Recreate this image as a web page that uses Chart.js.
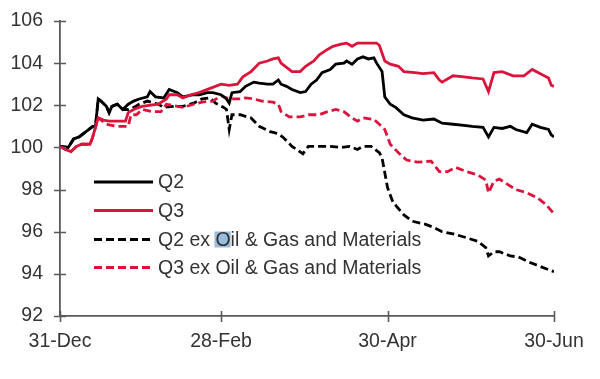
<!DOCTYPE html>
<html>
<head>
<meta charset="utf-8">
<script src="https://cdn.jsdelivr.net/npm/chart.js@4"></script>
<style>
html,body{margin:0;padding:0;background:#fff;}
#wrap{width:600px;height:379px;position:relative;}
</style>
</head>
<body>
<div id="wrap"><canvas id="c" width="600" height="379"></canvas></div>
<script>
// ---- data (x = days since 31-Dec) ----
const tickDays = [0, 59, 120, 181];
const tickLabels = ["31-Dec", "28-Feb", "30-Apr", "30-Jun"];
const yTicks = [92, 94, 96, 98, 100, 102, 104, 106];

const seriesNames = ["Q2", "Q3", "Q2 ex Oil & Gas and Materials", "Q3 ex Oil & Gas and Materials"];

const q2Days = [0,3,5,7,10,12,13,14,15,17,18,19,21,23,25,27,29,32,33,35,38,40,43,45,49,51,54,56,59,61,62,63,66,68,71,73,76,78,80,81,83,85,88,90,92,94,96,99,101,104,105,107,109,111,113,115,116,118,119,121,123,126,129,133,137,140,144,148,151,155,157,159,162,165,167,171,173,176,179,180,181];
const q2Vals = [100.05,100.0,100.4,100.5,100.8,101.0,101.0,102.3,102.2,101.95,101.65,101.95,102.05,101.8,102.05,102.2,102.3,102.4,102.65,102.4,102.35,102.75,102.6,102.4,102.5,102.5,102.6,102.6,102.5,102.3,102.1,102.6,102.65,102.9,103.1,103.05,103.0,103.0,103.2,103.0,102.9,102.75,102.6,102.65,103.0,103.2,103.55,103.7,103.95,104.0,104.1,103.95,104.2,104.3,104.2,104.25,104.0,103.6,102.4,102.05,101.9,101.55,101.4,101.3,101.35,101.15,101.1,101.05,101.0,100.95,100.5,100.95,100.9,101.0,100.85,100.7,101.1,100.95,100.85,100.6,100.5];

const q3Days = [0,2,4,6,8,11,12,14,16,18,24,25,27,30,36,39,40,43,45,48,51,55,59,62,65,67,70,73,76,78,80,81,83,85,88,90,93,95,98,100,103,105,107,109,113,116,117,119,121,124,126,130,133,137,139,140,144,148,151,155,157,159,162,166,170,173,176,179,180,181];
const q3Vals = [100.05,99.9,99.8,100.05,100.15,100.15,100.5,101.4,101.3,101.25,101.25,101.65,101.8,101.95,102.05,102.3,102.5,102.5,102.35,102.5,102.6,102.8,103.0,102.95,103.0,103.35,103.6,104.0,104.1,104.2,104.25,104.0,103.8,103.6,103.6,103.85,104.1,104.4,104.65,104.8,104.9,104.95,104.8,104.95,104.95,104.95,104.85,104.1,103.95,103.85,103.6,103.55,103.5,103.55,103.2,103.1,103.4,103.35,103.3,103.25,102.65,103.55,103.6,103.4,103.4,103.7,103.5,103.3,102.95,102.9];

const q2exDays = [0,3,5,7,10,12,13,14,15,17,18,19,21,23,25,27,29,32,36,38,42,45,49,52,55,57,60,61,62,63,66,70,73,77,80,82,85,89,91,95,99,103,106,109,111,114,116,117,118,119,120,122,126,129,134,137,140,144,148,153,156,157,159,161,165,168,172,176,179,181];
const q2exVals = [100.05,100.0,100.4,100.5,100.8,101.0,101.0,102.3,102.2,101.95,101.65,101.95,102.05,101.8,101.8,101.9,102.05,102.2,102.05,101.9,101.95,101.95,102.1,102.3,102.35,102.1,101.9,101.8,100.85,101.55,101.55,101.4,101.0,100.75,100.65,100.45,100.05,99.7,100.05,100.05,100.05,100.0,100.05,99.9,100.05,100.05,99.85,99.75,99.5,98.8,98.1,97.4,96.8,96.5,96.35,96.2,96.0,95.9,95.75,95.55,95.25,94.85,95.05,95.05,94.85,94.8,94.55,94.35,94.2,94.1];

const q3exDays = [0,2,4,6,8,11,12,14,17,21,25,26,28,30,34,37,39,43,45,49,52,56,59,61,63,66,68,71,74,78,80,81,84,88,91,95,98,101,104,107,109,111,115,117,119,121,124,127,131,136,139,142,145,149,153,156,157,159,161,164,167,171,175,178,181];
const q3exVals = [100.05,99.9,99.8,100.05,100.15,100.15,100.5,101.4,101.1,101.0,101.0,101.55,101.55,101.8,101.7,101.7,102.05,101.95,101.9,102.05,102.15,102.2,102.45,102.35,102.3,102.3,102.35,102.3,102.2,102.15,102.05,101.7,101.45,101.45,101.55,101.55,101.7,101.8,101.7,101.4,101.25,101.4,101.33,101.1,100.85,100.15,99.75,99.4,99.3,99.35,98.85,98.85,99.05,98.85,98.7,98.45,97.85,98.4,98.5,98.25,98.0,97.85,97.6,97.3,96.85];

// ---- styling ----
const BLACK = '#000000';
const RED = '#dc143c';
const AXIS = '#5a5a5a';
const TEXT = '#333333';
const FONT_FAMILY = '"Liberation Sans", Arial, sans-serif';
const FONT_SIZE = 19.5;
const LW = 2.8;

function pts(days, vals) { return days.map((d, i) => ({ x: d, y: vals[i] })); }

const datasets = [
  { label: seriesNames[0], data: pts(q2Days, q2Vals), borderColor: BLACK, borderDash: [] },
  { label: seriesNames[1], data: pts(q3Days, q3Vals), borderColor: RED, borderDash: [] },
  { label: seriesNames[2], data: pts(q2exDays, q2exVals), borderColor: BLACK, borderDash: [8, 4] },
  { label: seriesNames[3], data: pts(q3exDays, q3exVals), borderColor: RED, borderDash: [8, 4] }
].map(d => Object.assign(d, { borderWidth: LW, pointRadius: 0, tension: 0, fill: false }));
datasets[0].order = 1; datasets[1].order = 0; datasets[2].order = 3; datasets[3].order = 2;

const crossTicks = {
  id: 'crossTicks',
  afterDraw(chart) {
    const ctx = chart.ctx;
    const x = chart.scales.x, y = chart.scales.y;
    ctx.save();
    ctx.strokeStyle = AXIS;
    ctx.lineWidth = 1.6;
    ctx.beginPath();
    yTicks.forEach(v => {
      const py = Math.round(y.getPixelForValue(v)) + 0.5;
      ctx.moveTo(x.left - 6, py); ctx.lineTo(x.left + 6, py);
    });
    tickDays.forEach(v => {
      const px = Math.round(x.getPixelForValue(v)) + 0.5;
      ctx.moveTo(px, y.bottom - 5); ctx.lineTo(px, y.bottom + 6);
    });
    ctx.stroke();
    ctx.restore();
  }
};

const customLegend = {
  id: 'customLegend',
  afterDraw(chart) {
    const ctx = chart.ctx;
    ctx.save();
    ctx.font = FONT_SIZE + 'px ' + FONT_FAMILY;
    ctx.textBaseline = 'middle';
    const rows = [182, 210.5, 239.5, 267.5];
    chart.data.datasets.forEach((ds, i) => {
      const yy = rows[i];
      if (i === 2) {
        const pre = ctx.measureText('Q2 ex ').width;
        const ow = ctx.measureText('O').width;
        ctx.fillStyle = 'rgba(120,165,210,0.75)';
        ctx.fillRect(158 + pre - 1, yy - 8, ow + 1, 16);
      }
      ctx.strokeStyle = ds.borderColor;
      ctx.lineWidth = LW;
      ctx.setLineDash(ds.borderDash || []);
      ctx.beginPath();
      ctx.moveTo(94, yy); ctx.lineTo(153, yy);
      ctx.stroke();
      ctx.setLineDash([]);
      ctx.fillStyle = TEXT;
      ctx.fillText(ds.label, 158, yy + 1);
    });
    ctx.restore();
  }
};

new Chart(document.getElementById('c'), {
  type: 'line',
  data: { datasets },
  options: {
    responsive: false,
    animation: false,
    layout: { padding: { left: 0, right: 46, top: 21, bottom: 0 } },
    plugins: { legend: { display: false }, tooltip: { enabled: false } },
    scales: {
      x: {
        type: 'linear', min: 0, max: 181,
        afterBuildTicks: s => { s.ticks = tickDays.map(v => ({ value: v })); },
        afterFit: s => { s.height = 63; s.paddingLeft = 0; s.paddingRight = 0; },
        grid: { display: true, drawOnChartArea: false, drawTicks: false },
        border: { display: true, color: AXIS, width: 1.8 },
        ticks: {
          padding: 14, color: TEXT, maxRotation: 0, autoSkip: false,
          font: { family: FONT_FAMILY, size: FONT_SIZE },
          callback: v => { const i = tickDays.indexOf(v); return i >= 0 ? tickLabels[i] : ''; }
        }
      },
      y: {
        type: 'linear', min: 92, max: 106,
        afterBuildTicks: s => { s.ticks = yTicks.map(v => ({ value: v })); },
        afterFit: s => { s.width = 60; s.paddingTop = 0; s.paddingBottom = 0; },
        grid: { display: true, drawOnChartArea: false, drawTicks: false },
        border: { display: true, color: AXIS, width: 1.8 },
        ticks: {
          padding: 17, color: TEXT,
          font: { family: FONT_FAMILY, size: FONT_SIZE },
          callback: v => String(v)
        }
      }
    }
  },
  plugins: [crossTicks, customLegend]
});
</script>
</body>
</html>
